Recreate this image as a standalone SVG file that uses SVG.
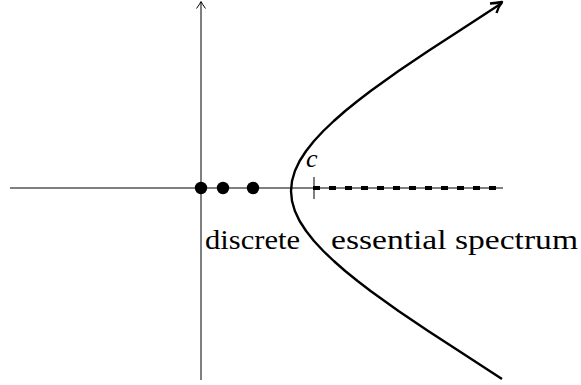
<svg xmlns="http://www.w3.org/2000/svg" width="581" height="385" viewBox="0 0 581 385">
<style>
.axis{stroke:#000;stroke-width:1;fill:none}
.curve{stroke:#000;stroke-width:2.4;fill:none;stroke-linejoin:round}
.dash{stroke:#000;stroke-width:4;stroke-dasharray:7 9;fill:none}
</style>
<rect width="581" height="385" fill="#fff"/>
<g id="axes">
<line class="axis" x1="10" y1="188" x2="503" y2="188"/>
<line class="axis" x1="201" y1="380" x2="201" y2="2"/>
<path class="axis" d="M196.5,8.5 Q199.5,4.5 201,1.5 Q202.5,4.5 205.5,8.5"/>
</g>
<g id="discrete-points">
<circle cx="201" cy="188" r="6.2"/>
<circle cx="223" cy="188" r="6.2"/>
<circle cx="253" cy="188" r="6.2"/>
</g>
<g id="essential-spectrum">
<line class="axis" x1="314" y1="177" x2="314" y2="199"/>
<line class="dash" x1="313" y1="188" x2="503" y2="188"/>
</g>
<g id="curve">
<polyline class="curve" points="502,3 459,31 428.2,51 398.5,71 370.6,91 357.6,101 345.2,111 333.8,121 323.3,131 314,141 306.1,151 299.6,161 294.9,171 292,181 291,191 292,201 294.9,211 299.6,221 306.1,231 314,241 323.3,251 333.8,261 345.2,271 357.6,281 370.6,291 398.5,311 428.2,331 459,351 502,379"/>
<path class="curve" d="M490,3.5 Q497,3 502,2 Q498.5,6.5 496.5,13"/>
</g>
<g id="labels" font-family="'Liberation Serif', serif" fill="#000">
<text x="306" y="167" font-style="italic" font-size="26">c</text>
<text x="205" y="249" font-size="28" textLength="95" lengthAdjust="spacingAndGlyphs">discrete</text>
<text x="331" y="249" font-size="28" textLength="247" lengthAdjust="spacingAndGlyphs">essential spectrum</text>
</g>
</svg>
